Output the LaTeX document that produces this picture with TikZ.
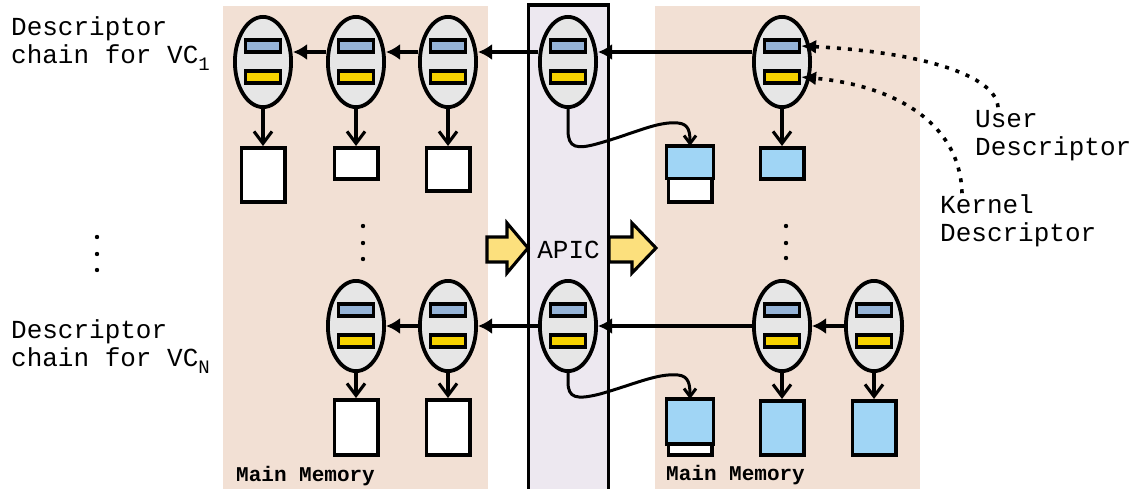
\documentclass[tikz,border=0pt]{standalone}
\usepackage{fontspec}
\setmonofont{Liberation Mono}
\usetikzlibrary{arrows.meta,shapes.geometric,calc}

\definecolor{memfill}{HTML}{F2E0D4}
\definecolor{apicfill}{HTML}{EDE8F0}
\definecolor{descgray}{HTML}{E6E6E6}
\definecolor{userblue}{HTML}{95B3D7}
\definecolor{kernyellow}{HTML}{F6D200}
\definecolor{bufblue}{HTML}{A0D5F5}
\definecolor{flowyellow}{HTML}{FCE07D}

% lowered small index after "VC"
\newcommand\lowsub[1]{\raisebox{-7pt}{\fontsize{19}{19}\selectfont#1}}

% a descriptor: ellipse holding a user field (top) and a kernel field (bottom)
\newcommand\descriptor[2]{%
  \node[desc] (#1) at (#2) {};
  \node[ufield] (#1u) at ([yshift=16pt]#1.center) {};
  \node[kfield] (#1k) at ([yshift=-15pt]#1.center) {};
}

\tikzset{
  desc/.style={ellipse, draw, line width=3.8pt, fill=descgray,
    minimum width=56.2pt, minimum height=90.2pt, inner sep=0pt},
  ufield/.style={rectangle, draw, line width=3.1pt, fill=userblue,
    minimum width=35pt, minimum height=12pt, inner sep=0pt},
  kfield/.style={ufield, fill=kernyellow},
  buf/.style={rectangle, draw, line width=3.8pt, fill=white,
    minimum width=43.2pt, inner sep=0pt},
  link/.style={line width=3.1pt, -{Latex[length=14pt,width=16pt]}},
  fetch/.style={line width=3.1pt, -{Straight Barb[length=12pt,width=18pt]}},
  copyarrow/.style={line width=3pt, -{Straight Barb[length=8pt,width=12pt]}},
  pointer/.style={line width=3.6pt, dash pattern=on 4pt off 7pt,
    -{Latex[length=15pt,width=14pt]}},
  flow/.style={draw, line width=3.1pt, fill=flowyellow, line join=miter},
  lbl/.style={inner sep=0pt},
}

\begin{document}
\begin{tikzpicture}[x=1pt, y=-1pt, font=\ttfamily\fontsize{26}{28}\selectfont]
\useasboundingbox (0,0) rectangle (1138,488);
\clip (0,0) rectangle (1138,488);

% memory regions and the APIC column
\fill[memfill] (223,6) rectangle (488,495);
\fill[memfill] (655,6) rectangle (920,495);
\draw[line width=3.1pt, fill=apicfill] (528.5,5) rectangle (608.5,500);

% flow arrows through the APIC
\draw[flow] (487,237) -- (507,237) -- (507,223) -- (528,248) -- (507,273)
  -- (507,262) -- (487,262) -- cycle;
\draw[flow] (609,237) -- (632,237) -- (632,223) -- (656,248) -- (632,273)
  -- (632,262) -- (609,262) -- cycle;
\node[lbl, anchor=base] (apiclbl) at (568.5,258) {APIC};

% ---- chain for VC_1 ----
\descriptor{t1}{263,62}
\descriptor{t2}{356,62}
\descriptor{t3}{448,62}
\descriptor{tA}{568,62}
\descriptor{tR}{782,62}

\node[buf, minimum height=54.2pt] (tb1) at (263,175) {};
\node[buf, minimum height=31.2pt] (tb2) at (356,163.5) {};
\node[buf, minimum height=43.2pt] (tb3) at (448,169.5) {};
\node[buf, minimum height=54.2pt] (tbA) at (690,175) {};
\draw[line width=3.8pt, fill=bufblue] (tbA.north west) rectangle ($(tbA.north east)+(0,32.5)$);
\node[buf, fill=bufblue, minimum height=31.2pt] (tbB) at (782,163.5) {};

\draw[link] ([yshift=10pt]tR.west) -- ([yshift=10pt]tA.east);
\draw[link] ([yshift=10pt]tA.west) -- ([yshift=10pt]t3.east);
\draw[link] ([yshift=10pt]t3.west) -- ([yshift=10pt]t2.east);
\draw[link] ([yshift=10pt]t2.west) -- ([yshift=10pt]t1.east);

\draw[fetch] (t1.south) -- (tb1.north);
\draw[fetch] (t2.south) -- (tb2.north);
\draw[fetch] (t3.south) -- (tb3.north);
\draw[fetch] (tR.south) -- (tbB.north);
\draw[copyarrow] (tA.south) -- (568,130) .. controls (568,148) and (576,150) .. (600,143)
  .. controls (635,133) and (658,121) .. (678,123)
  .. controls (689,124) and (690,132) .. (tbA.north);

% ---- chain for VC_N ----
\descriptor{b1}{356,326}
\descriptor{b2}{448,326}
\descriptor{bA}{568,326}
\descriptor{bR1}{782,326}
\descriptor{bR2}{874,326}

\node[buf, minimum height=55.2pt] (bb1) at (356,427.5) {};
\node[buf, minimum height=55.2pt] (bb2) at (448,427.5) {};
\node[buf, minimum height=54.2pt] (bbA) at (690,428) {};
\draw[line width=3.8pt, fill=bufblue] (bbA.north west) rectangle ($(bbA.north east)+(0,45)$);
\node[buf, fill=bufblue, minimum height=54.2pt] (bbB) at (782,428) {};
\node[buf, fill=bufblue, minimum height=54.2pt] (bbC) at (874,428) {};

\draw[link] (bR2.west) -- (bR1.east);
\draw[link] (bR1.west) -- (bA.east);
\draw[link] (bA.west) -- (b2.east);
\draw[link] (b2.west) -- (b1.east);

\draw[fetch] (b1.south) -- (bb1.north);
\draw[fetch] (b2.south) -- (bb2.north);
\draw[fetch] (bR1.south) -- (bbB.north);
\draw[fetch] (bR2.south) -- (bbC.north);
\draw[copyarrow] (bA.south) -- (568,382) .. controls (568,398) and (576,400) .. (600,394)
  .. controls (635,384) and (658,373) .. (678,375)
  .. controls (689,376) and (690,385) .. (bbA.north);

% elision dots
\foreach \y in {237,254,270} \fill (97,\y) circle (2.2pt);
\foreach \y in {226,243,259} \fill (363,\y) circle (2.2pt);
\foreach \y in {226,243,258} \fill (786,\y) circle (2.2pt);

% labels
\node[lbl, anchor=base west] (vc1) at (11,35)
  {\begin{tabular}[t]{@{}l@{}}Descriptor\\chain for VC\lowsub{1}\end{tabular}};
\node[lbl, anchor=base west] (vcn) at (11,338)
  {\begin{tabular}[t]{@{}l@{}}Descriptor\\chain for VC\lowsub{N}\end{tabular}};
\node[lbl, anchor=base west] (ulab) at (975,127)
  {\begin{tabular}[t]{@{}l@{}}User\\Descriptor\end{tabular}};
\node[lbl, anchor=base west] (klab) at (940,213)
  {\begin{tabular}[t]{@{}l@{}}Kernel\\Descriptor\end{tabular}};
\node[lbl, anchor=base west, font=\ttfamily\bfseries\fontsize{21}{24}\selectfont]
  (mm1) at (236,481) {Main Memory};
\node[lbl, anchor=base west, font=\ttfamily\bfseries\fontsize{21}{24}\selectfont]
  (mm2) at (666,480) {Main Memory};

% pointers from the labels to the fields
\draw[pointer] ([xshift=23pt]ulab.north west) .. controls (996,75) and (920,52) .. (tRu.east);
\draw[pointer] ([xshift=22pt]klab.north west) .. controls (960,120) and (890,85) .. (tRk.east);
\end{tikzpicture}
\end{document}
